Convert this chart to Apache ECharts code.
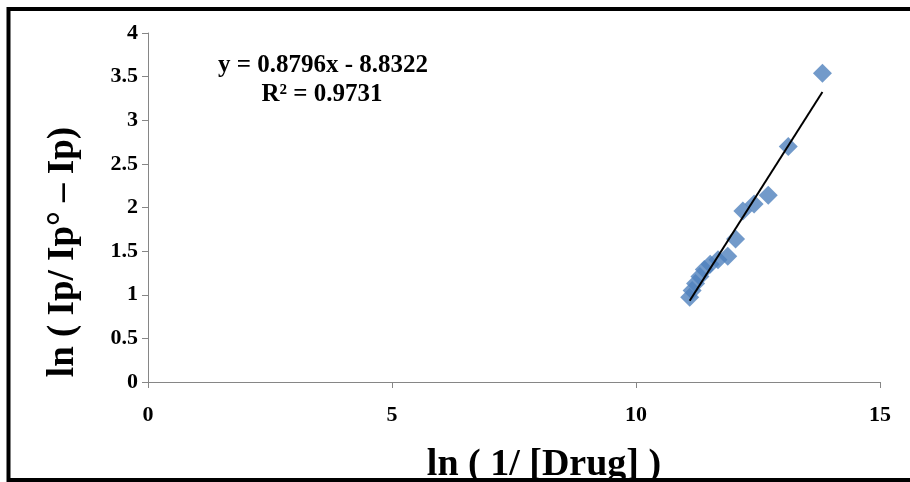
<!DOCTYPE html>
<html>
<head>
<meta charset="utf-8">
<script src="https://cdn.jsdelivr.net/npm/echarts@6/dist/echarts.min.js"></script>
<style>html,body{margin:0;padding:0;background:#fff}#c{width:910px;height:482px}</style>
</head>
<body>
<div id="c"></div>
<script>
const xValues = [11.10, 11.15, 11.22, 11.31, 11.40, 11.52, 11.68, 11.88, 12.04, 12.19, 12.42, 12.71, 13.12, 13.82];
const yValues = [0.97, 1.05, 1.13, 1.21, 1.29, 1.35, 1.40, 1.44, 1.64, 1.96, 2.04, 2.14, 2.70, 3.54];
const trendSlope = 0.8796;
const trendIntercept = -8.8322;
const equationText = 'y = 0.8796x - 8.8322';
const r2Text = 'R² = 0.9731';
const xTitle = 'ln ( 1/ [Drug] )';
const yTitle = 'ln ( Ip/ Ip° – Ip)';

const points = xValues.map((x, i) => [x, yValues[i]]);
const xMin = Math.min(...xValues), xMax = Math.max(...xValues);
const trend = [[xMin, trendSlope * xMin + trendIntercept], [xMax, trendSlope * xMax + trendIntercept]];

const FONT = '"Liberation Serif", "Times New Roman", serif';
const axisGray = '#868686';

const chart = echarts.init(document.getElementById('c'), null, {renderer: 'canvas'});
chart.setOption({
  animation: false,
  backgroundColor: '#fff',
  grid: {left: 148, right: 30, top: 33, bottom: 100, containLabel: false},
  xAxis: {
    type: 'value', min: 0, max: 15, interval: 5,
    axisLine: {show: true, onZero: false, lineStyle: {color: axisGray, width: 1}},
    axisTick: {show: true, inside: false, length: 6, lineStyle: {color: axisGray}},
    axisLabel: {fontFamily: FONT, fontWeight: 'bold', fontSize: 22, color: '#000', margin: 22},
    splitLine: {show: false}
  },
  yAxis: {
    type: 'value', min: 0, max: 4, interval: 0.5,
    axisLine: {show: true, onZero: false, lineStyle: {color: axisGray, width: 1}},
    axisTick: {show: true, inside: false, length: 6, lineStyle: {color: axisGray}},
    axisLabel: {fontFamily: FONT, fontWeight: 'bold', fontSize: 22, color: '#000', margin: 10},
    splitLine: {show: false}
  },
  series: [
    {
      type: 'scatter', data: points, symbol: 'diamond', symbolSize: 19,
      itemStyle: {color: '#4F81BD'}, z: 2
    },
    {
      type: 'line', data: trend, symbol: 'none', showSymbol: false,
      lineStyle: {color: '#000', width: 2}, z: 3
    }
  ],
  graphic: [
    {type: 'text', x: 323, y: 66, style: {text: equationText, font: 'bold 25px ' + FONT, fill: '#000', textAlign: 'center', textVerticalAlign: 'middle'}},
    {type: 'text', x: 322, y: 95, style: {text: r2Text, font: 'bold 25px ' + FONT, fill: '#000', textAlign: 'center', textVerticalAlign: 'middle'}},
    {type: 'text', x: 63, y: 252, rotation: Math.PI / 2, style: {text: yTitle, font: 'bold 37px ' + FONT, fill: '#000', textAlign: 'center', textVerticalAlign: 'middle'}},
    {type: 'text', x: 544, y: 465, style: {text: xTitle, font: 'bold 38px ' + FONT, fill: '#000', textAlign: 'center', textVerticalAlign: 'middle'}},
    {type: 'rect', shape: {x: 8.5, y: 9, width: 960, height: 471}, style: {fill: 'none', stroke: '#000', lineWidth: 4}, silent: true, z: 100}
  ]
});
</script>
</body>
</html>
